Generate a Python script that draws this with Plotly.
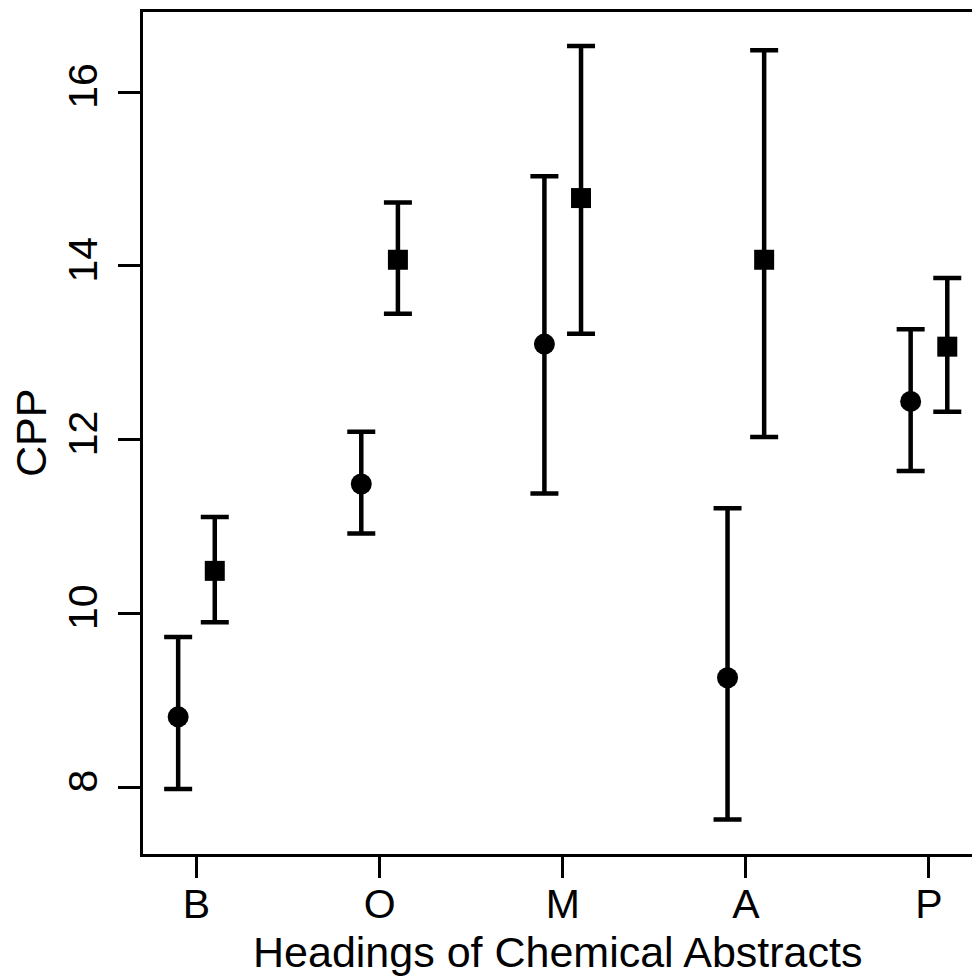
import plotly.graph_objects as go

categories = ["B", "O", "M", "A", "P"]

circle_mean = [8.81, 11.49, 13.10, 9.26, 12.44]
circle_low = [7.98, 10.92, 11.38, 7.63, 11.64]
circle_high = [9.73, 12.09, 15.03, 11.21, 13.27]

square_mean = [10.49, 14.07, 14.78, 14.07, 13.07]
square_low = [9.90, 13.45, 13.22, 12.03, 12.32]
square_high = [11.11, 14.73, 16.53, 16.48, 13.86]

yticks = [8, 10, 12, 14, 16]

pos = list(range(1, len(categories) + 1))
off = 0.1

FONT = "Liberation Sans, Arial, Helvetica, sans-serif"

fig = go.Figure()

def add_series(mean, low, high, shift, symbol, size):
    fig.add_trace(go.Scatter(
        x=[p + shift for p in pos],
        y=mean,
        mode="markers",
        marker=dict(symbol=symbol, size=size, color="black", line=dict(width=0)),
        error_y=dict(
            type="data",
            symmetric=False,
            array=[h - m for h, m in zip(high, mean)],
            arrayminus=[m - l for m, l in zip(mean, low)],
            color="black",
            thickness=4.5,
            width=14,
        ),
        showlegend=False,
        hoverinfo="skip",
    ))

add_series(circle_mean, circle_low, circle_high, -off, "circle", 21)
add_series(square_mean, square_low, square_high, off, "square", 20)

fig.update_layout(
    width=972,
    height=977,
    margin=dict(l=143, r=0, t=12, b=123),
    paper_bgcolor="white",
    plot_bgcolor="white",
    font=dict(family=FONT, color="black", size=41),
    xaxis=dict(
        range=[0.708, 5.235],
        tickmode="array",
        tickvals=pos,
        ticktext=categories,
        ticks="outside",
        ticklen=21,
        tickwidth=3,
        tickcolor="black",
        showline=True,
        linecolor="black",
        linewidth=3,
        mirror=True,
        showgrid=False,
        zeroline=False,
        tickfont=dict(size=41),
        ticklabelstandoff=-9,
    ),
    yaxis=dict(
        range=[7.232, 16.921],
        tickmode="array",
        tickvals=yticks,
        ticktext=[str(t) for t in yticks],
        tickangle=-90,
        ticks="outside",
        ticklen=22,
        tickwidth=3,
        tickcolor="black",
        showline=True,
        linecolor="black",
        linewidth=3,
        showgrid=False,
        zeroline=False,
        tickfont=dict(size=41),
        ticklabelstandoff=5,
    ),
    annotations=[
        dict(text="Headings of Chemical Abstracts", xref="paper", yref="paper",
             x=0.5, y=0, xanchor="center", yanchor="middle", yshift=-98,
             showarrow=False, font=dict(size=43)),
        dict(text="CPP", xref="paper", yref="paper", x=0, y=0.5,
             xanchor="center", yanchor="middle", xshift=-112, textangle=-90,
             showarrow=False, font=dict(size=43)),
    ],
)

fig.write_html("out.html", config={"displayModeBar": False},
               post_script="document.body.style.margin='0';")
